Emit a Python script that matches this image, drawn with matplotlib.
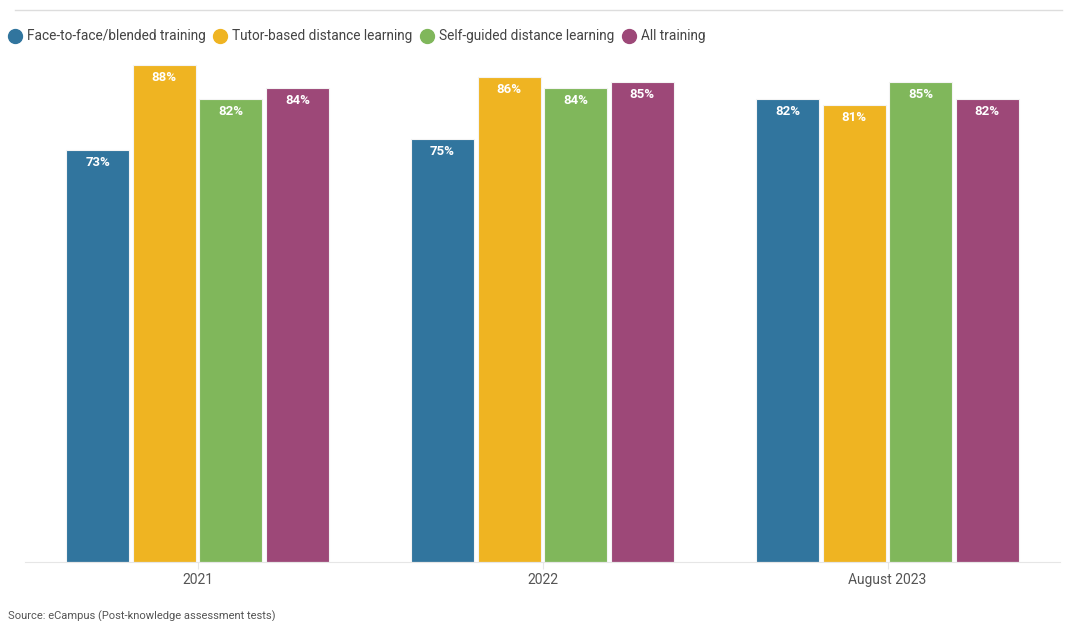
import matplotlib
matplotlib.use("Agg")
import matplotlib.pyplot as plt
from matplotlib.lines import Line2D
import numpy as np

plt.rcParams['font.family'] = ['Roboto', 'DejaVu Sans']

categories = ["2021", "2022", "August 2023"]
series_names = ["Face-to-face/blended training", "Tutor-based distance learning",
                "Self-guided distance learning", "All training"]
face_to_face = [73, 75, 82]
tutor_based = [88, 86, 81]
self_guided = [82, 84, 85]
all_training = [84, 85, 82]
colors = ["#31759E", "#EFB422", "#80B75B", "#9D4878"]

values = [face_to_face, tutor_based, self_guided, all_training]

fig = plt.figure(figsize=(10.69, 6.21), dpi=100)
ax = fig.add_axes([25/1069, 1 - 562/621, (1060-25)/1069, (562-10)/621])

x = np.arange(len(categories))
width = 0.183
pitch = 0.193
for i, (vals, col) in enumerate(zip(values, colors)):
    pos = x + (i - 1.5) * pitch
    bars = ax.bar(pos, vals, width=width, color=col, edgecolor="#f4f4f4", linewidth=0.8, zorder=2)
    for b, v in zip(bars, vals):
        ax.annotate(f"{v}%", (b.get_x() + b.get_width()/2, v), xytext=(0, -9),
                    textcoords="offset points", ha="center", va="center",
                    color="white", fontsize=9.5, fontweight="bold")

ax.set_xlim(-0.5, 2.5)
ax.set_ylim(0, 552/5.645)
for s in ["top", "right", "left"]:
    ax.spines[s].set_visible(False)
ax.spines["bottom"].set_color("#e6e6e6")
ax.set_yticks([])
ax.set_xticks(x)
ax.set_xticklabels(categories, fontsize=10, color="#555555")
ax.tick_params(axis="x", length=5, color="#e6e6e6", pad=3)

# top separator line
fig.add_artist(Line2D([15/1069, 1062/1069], [1 - 10/621, 1 - 10/621], color="#dddddd", linewidth=1))

# legend
handles = [Line2D([0], [0], marker="o", linestyle="none", markersize=10,
                  markerfacecolor=c, markeredgecolor=c) for c in colors]
fig.legend(handles, series_names, loc="upper left", bbox_to_anchor=(0.001, 1 - 24/621),
           ncol=4, frameon=False, fontsize=9.8, handletextpad=0.3, columnspacing=0.45,
           borderaxespad=0, handlelength=1.2, labelcolor="#444444")

fig.text(8/1069, 1 - 616/621, "Source: eCampus (Post-knowledge assessment tests)",
         fontsize=8, color="#555555", va="center", ha="left")

fig.savefig("out.png", dpi=100)
